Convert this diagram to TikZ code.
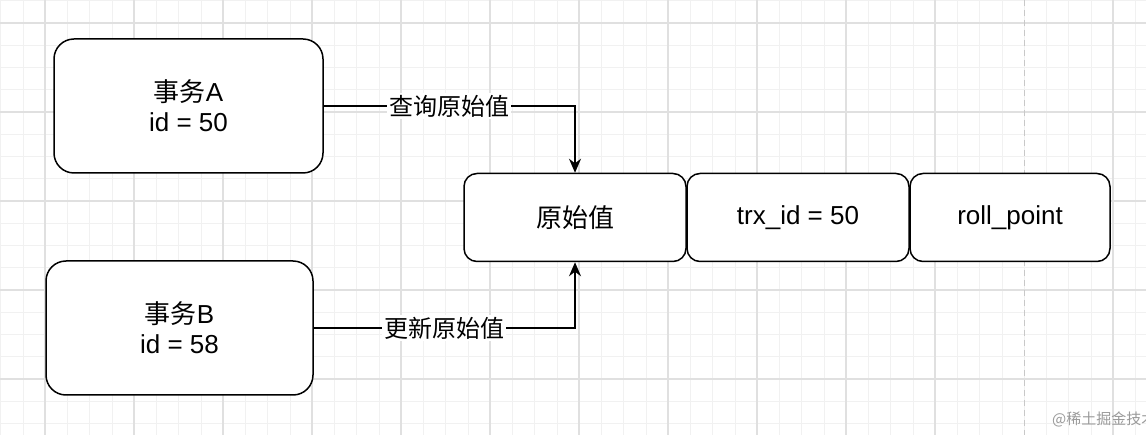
\documentclass[tikz,border=0pt]{standalone}
\usepackage{fontspec}
\setmainfont{Liberation Sans}
\newfontfamily\cjk{Noto Sans CJK SC}
\usetikzlibrary{arrows.meta}
\definecolor{gridminor}{HTML}{F1F1F1}
\definecolor{gridmajor}{HTML}{E0E0E0}
\definecolor{pagebreak}{HTML}{C8C8C8}
\definecolor{wmark}{HTML}{9A9A9A}
\tikzset{
  minorline/.style={draw=gridminor, line width=1pt},
  majorline/.style={draw=gridmajor, line width=1.2pt},
  bigbox/.style={draw=black, line width=1.5pt, rounded corners=20pt, fill=white, align=center,
    font=\fontsize{26}{30}\selectfont, inner sep=0pt},
  cell/.style={draw=black, line width=1.5pt, rounded corners=13pt, fill=white, align=center,
    font=\fontsize{26}{30}\selectfont, inner sep=0pt, minimum height=88pt},
  conn/.style={draw=black, line width=1.5pt, -{Stealth[length=14pt,width=12pt]}},
  lab/.style={fill=white, inner sep=2pt, font=\fontsize{24}{28}\selectfont\cjk}
}
\begin{document}
\begin{tikzpicture}[x=1pt,y=-1pt]
\useasboundingbox (0,0) rectangle (1146,435);
\fill[white] (0,0) rectangle (1146,435);
% grid
\foreach \i in {0,...,51} \draw[minorline] ({0.75+22.25*\i},0) -- ({0.75+22.25*\i},435);
\foreach \j in {0,...,19} \draw[minorline] (0,{0.75+22.25*\j}) -- (1146,{0.75+22.25*\j});
\foreach \i in {0,...,10,12} \draw[majorline] ({45+89*\i},0) -- ({45+89*\i},435);
\foreach \j in {0,...,4} \draw[majorline] (0,{23+89*\j}) -- (1146,{23+89*\j});
\draw[pagebreak, line width=1.2pt, dash pattern=on 6pt off 4pt] (1024.5,0) -- (1024.5,435);
% nodes
\node[bigbox, minimum width=269pt, minimum height=134pt] (A) at (188.5,106) {{\cjk 事务}A\\id = 50};
\node[bigbox, minimum width=267pt, minimum height=134pt] (B) at (179.5,328) {{\cjk 事务}B\\id = 58};
\node[cell, minimum width=222pt] (orig) at (575,217.5) {{\cjk 原始值}};
\node[cell, minimum width=222pt] (trx) at (798,217.5) {trx\_id = 50};
\node[cell, minimum width=200pt] (roll) at (1010,217.5) {roll\_point};
% connectors
\draw[conn] (A.east) -- node[lab] {查询原始值} (A.east -| orig.north) -- (orig.north);
\draw[conn] (B.east) -- node[lab] {更新原始值} (B.east -| orig.south) -- (orig.south);
% watermark
\node[anchor=west, text=wmark, inner sep=0pt, font=\fontsize{15}{18}\selectfont\cjk] (wm) at (1052,419) {@稀土掘金技术社区};
\end{tikzpicture}
\end{document}
